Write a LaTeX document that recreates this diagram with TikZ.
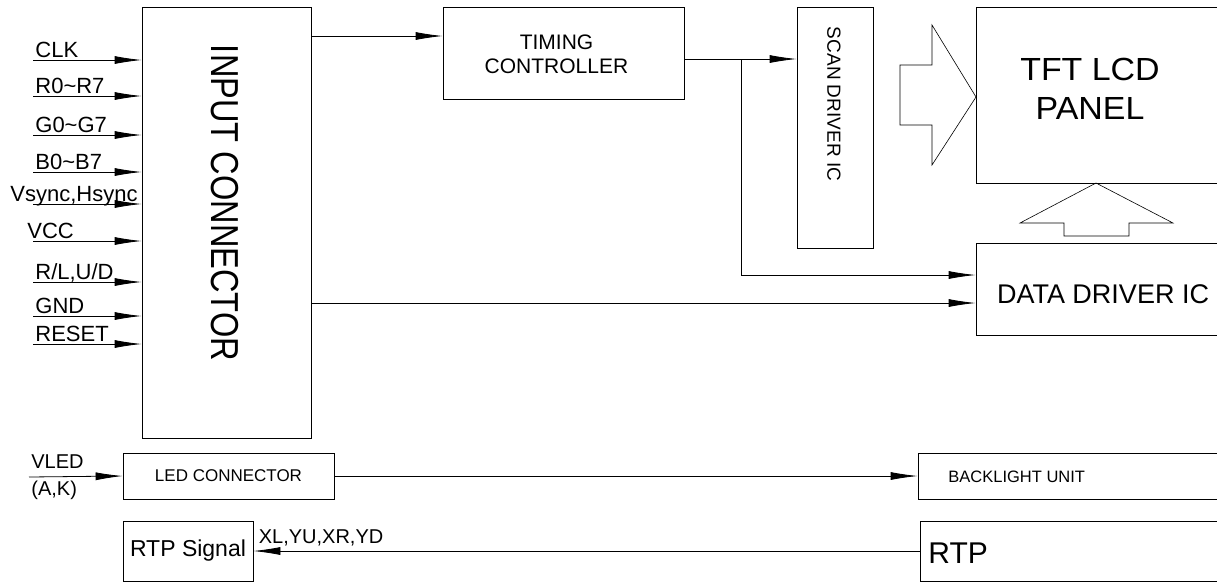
\documentclass[tikz,border=0pt]{standalone}
\usepackage{fontspec}
\setmainfont{Liberation Sans}
\usetikzlibrary{positioning}
\usetikzlibrary{arrows.meta}
\usetikzlibrary{calc}

\newcommand{\px}[2]{\fontsize{#1}{#2}\selectfont}

\begin{document}
\begin{tikzpicture}[x=1pt, y=-1pt, line width=0.8pt,
  >={Latex[length=27pt, width=8pt]},
  blk/.style={draw, inner sep=0pt, align=center},
  lbl/.style={inner sep=0pt, anchor=base west},
  fat/.style={draw, line width=0.6pt}]

\clip (0,0) rectangle (1217,582);

% blocks
\node (inconn) [blk, minimum width=169, minimum height=431] at (226.5,222.5) {};
\node (intext) [rotate=-90, font=\px{39}{39}] at (225,203) {\scalebox{0.835}[1]{INPUT CONNECTOR}};

\node (tc) [blk, minimum width=241, minimum height=92] at (563.5,53) {};
\node (tctext) [align=center, font=\px{21}{24}] at (556.5,54) {TIMING\\CONTROLLER};

\node (scan) [blk, minimum width=76, minimum height=241] at (835,127.5) {};
\node (scantext) [rotate=-90, font=\px{19}{19}] at (834,104) {SCAN DRIVER IC};

\node (panel) [blk, minimum width=254, minimum height=176] at (1103,95) {};
\node (paneltext) [align=center, font=\px{32}{39}] at (1090,89) {\scalebox{1.06}[1]{TFT LCD}\\\scalebox{1.06}[1]{PANEL}};

\node (dd) [blk, minimum width=254, minimum height=92] at (1103,289) {};
\node (ddtext) [font=\px{27}{27}] at (1103,294) {DATA DRIVER IC};

\node (led) [blk, minimum width=211, minimum height=46, font=\px{17}{17}] at (228.5,476) {LED CONNECTOR};
\node (bl) [blk, minimum width=312, minimum height=46] at (1074,476) {};
\node (bltext) [lbl, font=\px{16.5}{16.5}] at (948,482) {BACKLIGHT UNIT};

\node (rs) [blk, minimum width=130, minimum height=60, font=\px{23}{23}] at (188,551) {RTP Signal};
\node (rtp) [blk, minimum width=310, minimum height=60] at (1075,551) {};
\node (rtptext) [lbl, font=\px{30}{30}] at (928,563) {RTP};

% big arrows
\draw[fat] (900,65) -- (932,65) -- (932,25) -- (976,97) -- (932,165) -- (932,125) -- (900,125) -- cycle;
\draw[fat] (1064,236) -- (1064,223) -- (1020,223) -- (1096,183) -- (1173,223) -- (1129,223) -- (1129,236) -- cycle;

% inputs
\foreach \y/\x/\t [count=\i] in {60/35/CLK, 96/35/R0\textasciitilde R7, 135/35/G0\textasciitilde G7,
    172/35/B0\textasciitilde B7, 204/10/{Vsync,Hsync}, 241/27/VCC, 282/35/{R/L,U/D}, 316/35/GND, 344/35/RESET} {
  \coordinate (in\i) at (33,\y);
  \draw[->] (in\i) -- (in\i -| inconn.west);
  \node (sig\i) [lbl, font=\px{22}{22}] at (\x,\y-3) {\t};
}

% connections
\coordinate (a1) at (inconn.east |- 0,36);
\draw[->] (a1) -- (a1 -| tc.west);
\coordinate (t1) at (tc.east |- 0,59);
\draw[->] (t1) -- (t1 -| scan.west);
\coordinate (br) at (741,59);
\draw[->] (br) |- ($(dd.west)+(0,-14)$);
\coordinate (a2) at (inconn.east |- 0,303);
\draw[->] (a2) -- (a2 -| dd.west);

\coordinate (vl) at (29,477);
\draw[->] (vl) -- (led.west);
\node (vled) [lbl, font=\px{20}{20}] at (31,468) {VLED};
\node (ak) [lbl, font=\px{20}{20}] at (31,495) {(A,K)};
\draw[->] (led.east) -- (bl.west);

\draw[->] (rtp.west) -- (rs.east) node (xy) [pos=1, lbl, font=\px{20}{20}, xshift=5pt, yshift=8pt] {XL,YU,XR,YD};

\end{tikzpicture}
\end{document}
